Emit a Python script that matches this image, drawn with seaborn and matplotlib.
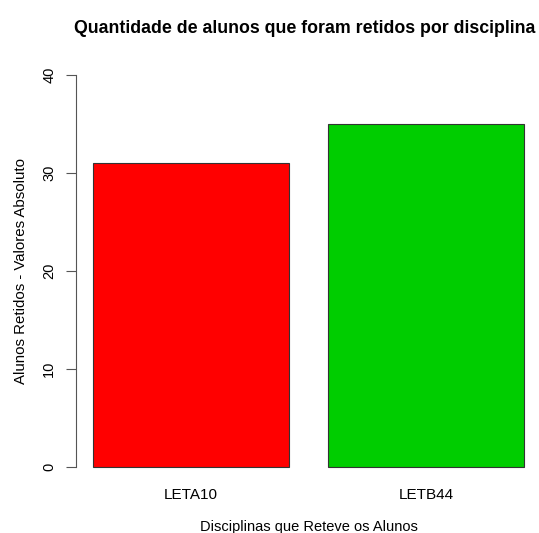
import matplotlib
matplotlib.use("Agg")
import matplotlib.pyplot as plt
import seaborn as sns
import pandas as pd

disciplinas = ["LETA10", "LETB44"]
retidos = [31, 35]
cores = ["#FF0000", "#00CD00"]
yticks = [0, 10, 20, 30, 40]

sns.set_style("white")
plt.rcParams["font.family"] = ["Liberation Sans", "DejaVu Sans"]
plt.rcParams["text.color"] = "black"
plt.rcParams["axes.labelcolor"] = "black"

fig = plt.figure(figsize=(5.39, 5.33), dpi=100)
ax = fig.add_axes([0.1406, 0.0944, 1.0046 - 0.1406, 0.8887 - 0.0944])

df = pd.DataFrame({"disc": disciplinas, "n": retidos})
sns.barplot(data=df, x="disc", y="n", hue="disc", palette=cores, legend=False,
            width=1 / 1.2, edgecolor="#333333", linewidth=0.8, saturation=1, ax=ax)

ax.set_xlim(-0.49, 1.49)
ax.set_ylim(-1.6, 41.6)
for s in ["top", "right", "bottom"]:
    ax.spines[s].set_visible(False)
ax.spines["left"].set_bounds(0, 40)
ax.spines["left"].set_color("#555555")
ax.spines["left"].set_linewidth(0.8)
ax.set_yticks(yticks)
ax.set_yticklabels([str(t) for t in yticks], rotation=90, va="center", fontsize=10.5)
ax.tick_params(axis="y", direction="out", length=7, width=0.8, color="#555555",
               labelcolor="black", pad=7, left=True)
ax.tick_params(axis="x", length=0, pad=4, labelsize=11, labelcolor="black")
ax.set_xlabel("Disciplinas que Reteve os Alunos", fontsize=10.5, labelpad=13)
ax.set_ylabel("Alunos Retidos - Valores Absoluto", fontsize=10.8, labelpad=10)
fig.text(0.566, 0.947, "Quantidade de alunos que foram retidos por disciplina",
         ha="center", va="center", fontsize=12.8, fontweight="bold")

fig.savefig("out.png", dpi=100)
